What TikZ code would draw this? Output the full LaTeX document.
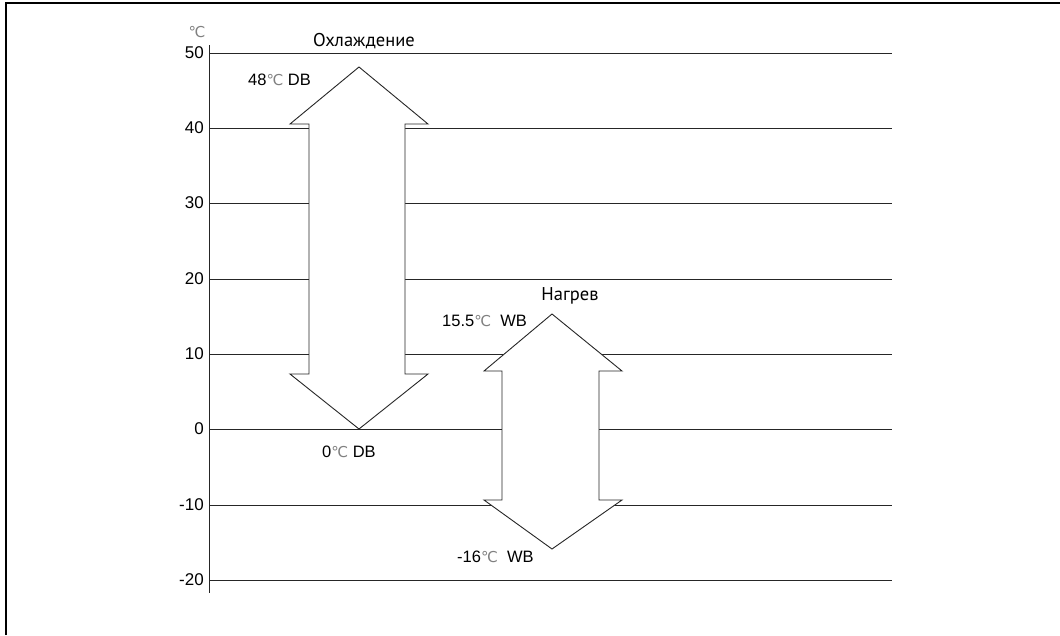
\documentclass[tikz,border=0pt]{standalone}
\usepackage{fontspec}
\setmainfont{Liberation Sans}
\newfontfamily\dejavu{DejaVu Sans}
\newfontfamily\ptsans{PT Sans}
\usetikzlibrary{positioning}
\definecolor{deg}{gray}{0.5}
\newcommand{\dC}{{\dejavu\color{deg}\fontsize{15}{16}\selectfont ℃}}
\tikzset{
  grid/.style={line width=0.9pt, draw=black!85},
  frame/.style={line width=1.6pt, draw=black},
  arr/.style={draw=black!85, line width=0.9pt, fill=white, line join=miter},
  tick/.style={font=\fontsize{17}{18}\selectfont, anchor=east, inner sep=0pt},
  lab/.style={font=\fontsize{16.5}{18}\selectfont, inner sep=0pt},
  title/.style={font=\ptsans\fontsize{18.5}{20}\selectfont, inner sep=0pt}
}
\begin{document}
\begin{tikzpicture}[x=1pt,y=-1pt]
\useasboundingbox (0,0) rectangle (1060,635);
% frame
\draw[frame] (6,635) -- (6,3) -- (1060,3);
% axis
\draw[grid] (209,45) -- (209,593);
% grid lines and tick labels
\foreach \v/\y in {50/53,40/128,30/203,20/279,10/354,0/429,-10/505,-20/580}{
  \draw[grid] (209,\y) -- (892,\y);
  \node[tick] (t\v) at (204,\y) {\v};
}
\node[inner sep=0pt] (unit) at (197,32) {\dC};
% cooling arrow
\draw[arr] (359,67) -- (428,124) -- (405,124) -- (405,374) -- (428,374) -- (359,429)
  -- (290,374) -- (309,374) -- (309,124) -- (290,124) -- cycle;
% heating arrow
\draw[arr] (552,314) -- (622,371) -- (599,371) -- (599,500) -- (622,500) -- (552,549)
  -- (484,500) -- (502,500) -- (502,371) -- (484,371) -- cycle;
% labels
\node[title] (cool) at (364,41) {Охлаждение};
\node[title] (heat) at (570,296) {Нагрев};
\node[lab, anchor=west] (l48) at (248,80) {48\dC\ DB};
\node[lab, anchor=west] (l155) at (442,321) {15.5\dC\ \ WB};
\node[lab, anchor=west] (l0) at (322,452) {0\dC\ DB};
\node[lab, anchor=west] (l16) at (457,557) {-16\dC\ \ WB};
\end{tikzpicture}
\end{document}
